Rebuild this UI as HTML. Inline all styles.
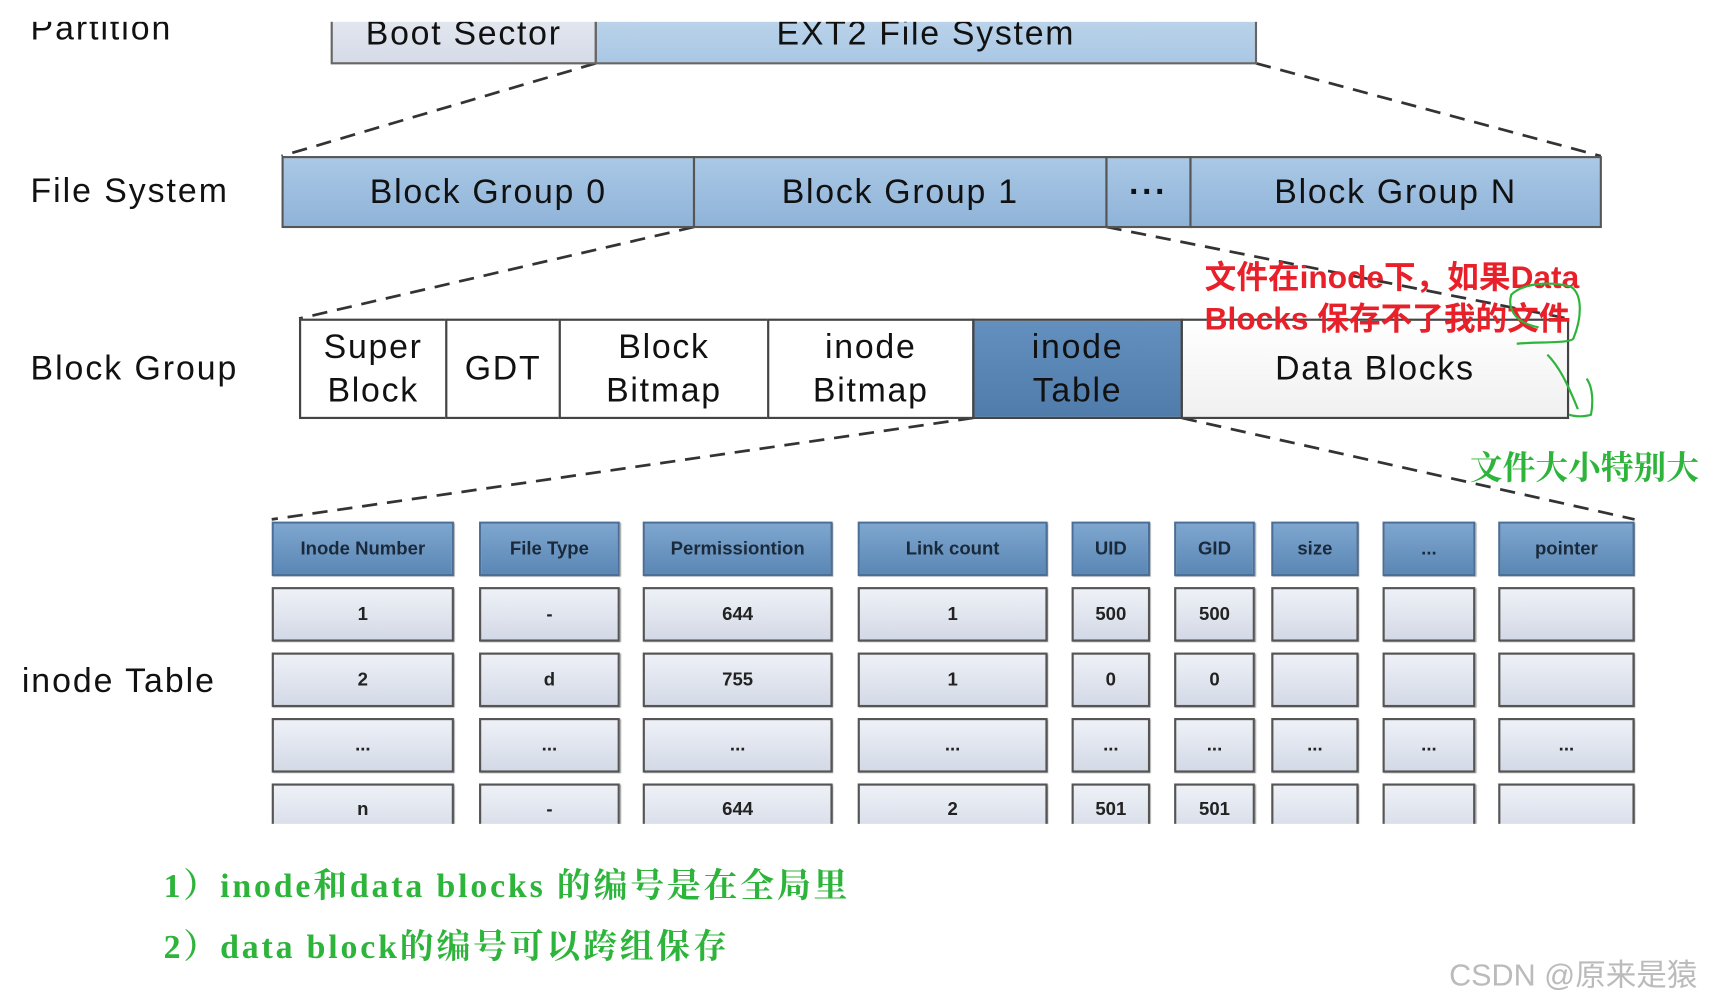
<!DOCTYPE html>
<html><head><meta charset="utf-8"><style>
html,body{margin:0;padding:0;background:#fff;overflow:hidden}
#wrap{width:1711px;height:1003px;overflow:hidden;position:relative}
#s{position:absolute;left:0;top:0;width:1568px;height:919px;transform:scale(1.0912);transform-origin:0 0;font-family:"Liberation Sans","Noto Sans CJK SC",sans-serif}
.a{position:absolute;box-sizing:border-box}
.lbl{position:absolute;font-size:31px;color:#111;letter-spacing:1.8px;white-space:nowrap}
.b{position:absolute;box-sizing:border-box;display:flex;align-items:center;justify-content:center;text-align:center;color:#111;font-size:31px;line-height:40px;letter-spacing:1.6px;white-space:nowrap}
.cell{position:absolute;box-sizing:border-box;display:flex;align-items:center;justify-content:center;font-size:17px;font-weight:bold;color:#222;border:2px solid #555;background:linear-gradient(#eef1f7,#d3d9e6);box-shadow:1px 1px 1px #999;white-space:nowrap}
.h{background:linear-gradient(#7ea6cf,#5b87b5);color:#1a2a3a;border-color:#4a6e95;font-size:17px}
</style></head><body><div id="wrap"><div id="s">
<svg class="a" style="left:0;top:0" width="1568" height="919">
<g stroke="#333" stroke-width="2.5" stroke-dasharray="14,9" fill="none">
<line x1="546" y1="58" x2="258" y2="143"/>
<line x1="1151" y1="58" x2="1467" y2="143"/>
<line x1="636" y1="208" x2="274" y2="292"/>
<line x1="1014" y1="208" x2="1437" y2="292"/>
<line x1="892" y1="383" x2="249" y2="476"/>
<line x1="1083" y1="383" x2="1498" y2="476"/>
</g>
</svg>
<div class="b" style="left:303px;top:-12px;width:244px;height:71px;background:linear-gradient(#eceff5,#d5dbe7);border:2px solid #666;align-items:flex-end;padding-bottom:6px">Boot Sector</div>
<div class="b" style="left:545px;top:-12px;width:607px;height:71px;background:linear-gradient(#c8dcef,#a9c7e4);border:2px solid #666;align-items:flex-end;padding-bottom:6px">EXT2 File System</div>
<div class="lbl" style="left:28px;top:8px">Partition</div>
<div class="a" style="left:0;top:0;width:1568px;height:20px;background:#fff"></div>
<div class="lbl" style="left:28px;top:157px">File System</div>
<div class="b" style="left:258px;top:143px;width:379px;height:66px;background:linear-gradient(#aac8e6,#8fb3d8);border:2px solid #555">Block Group 0</div>
<div class="b" style="left:635px;top:143px;width:380px;height:66px;background:linear-gradient(#aac8e6,#8fb3d8);border:2px solid #555">Block Group 1</div>
<div class="b" style="left:1013px;top:143px;width:79px;height:66px;background:linear-gradient(#aac8e6,#8fb3d8);border:2px solid #555;font-weight:bold">···</div>
<div class="b" style="left:1090px;top:143px;width:378px;height:66px;background:linear-gradient(#aac8e6,#8fb3d8);border:2px solid #555">Block Group N</div>
<div class="lbl" style="left:28px;top:320px">Block Group</div>
<div class="b" style="left:274px;top:292px;width:136px;height:92px;background:#fff;border:2px solid #444">Super<br>Block</div>
<div class="b" style="left:408px;top:292px;width:106px;height:92px;background:#fff;border:2px solid #444">GDT</div>
<div class="b" style="left:512px;top:292px;width:193px;height:92px;background:#fff;border:2px solid #444">Block<br>Bitmap</div>
<div class="b" style="left:703px;top:292px;width:190px;height:92px;background:#fff;border:2px solid #444">inode<br>Bitmap</div>
<div class="b" style="left:891px;top:292px;width:193px;height:92px;background:linear-gradient(#6390be,#4f7cab);border:2px solid #444">inode<br>Table</div>
<div class="b" style="left:1082px;top:292px;width:356px;height:92px;background:linear-gradient(#fff,#f0f0f0);border:2px solid #444">Data Blocks</div>
<div class="lbl" style="left:20px;top:606px">inode Table</div>
<div id="tbl"></div>
<div class="a" style="left:0;top:755px;width:1568px;height:30px;background:#fff"></div>
<div class="a" style="left:1104px;top:236px;font-size:29px;font-weight:bold;color:#e8202a;line-height:38px;white-space:nowrap;letter-spacing:0px">文件在inode下，如果Data<br>Blocks 保存不了我的文件</div>
<svg class="a" style="left:1370px;top:255px" width="110" height="140" fill="none" stroke="#2db43a" stroke-width="2">
<path d="M20,60 C40,58 70,60 72,55 C80,35 80,15 70,8 C50,2 25,5 15,15 C12,25 15,40 40,45"/>
<path d="M48,70 C58,80 66,95 76,120"/>
<path d="M84,92 C90,100 90,115 88,125 C82,127 74,127 68,125"/>
</svg>
<div class="a" style="left:1347px;top:404px;font-size:30px;font-weight:bold;color:#2db43a;font-family:'Noto Serif CJK SC',serif;white-space:nowrap">文件大小特别大</div>
<div class="a" style="left:150px;top:786px;font-size:31px;font-weight:bold;color:#2db43a;font-family:'Liberation Serif','Noto Serif CJK SC',serif;white-space:nowrap;letter-spacing:2.6px">1）inode和data blocks 的编号是在全局里</div>
<div class="a" style="left:150px;top:842px;font-size:31px;font-weight:bold;color:#2db43a;font-family:'Liberation Serif','Noto Serif CJK SC',serif;white-space:nowrap;letter-spacing:2.6px">2）data block的编号可以跨组保存</div>
<div class="a" style="left:1328px;top:872px;font-size:28px;color:#bbb;white-space:nowrap">CSDN @原来是猿</div>
</div></div>
<script>
var cols=[[249,416],[439,568],[589,763],[786,960],[982,1054],[1076,1150],[1165,1245],[1267,1352],[1373,1498]];
var rows=[[478,528,["Inode Number","File Type","Permissiontion","Link count","UID","GID","size","...","pointer"]],
[538,588,["1","-","644","1","500","500","","",""]],
[598,648,["2","d","755","1","0","0","","",""]],
[658,708,["...","...","...","...","...","...","...","...","..."]],
[718,770,["n","-","644","2","501","501","","",""]]];
var t=document.getElementById('tbl'),h='';
rows.forEach(function(r,ri){cols.forEach(function(c,ci){
h+='<div class="cell'+(ri==0?' h':'')+'" style="left:'+c[0]+'px;top:'+r[0]+'px;width:'+(c[1]-c[0])+'px;height:'+(r[1]-r[0])+'px;'+(ri==4?'align-items:flex-start;padding-top:12px':'')+'">'+r[2][ci]+'</div>';});});
t.outerHTML=h;
</script>
</body></html>
